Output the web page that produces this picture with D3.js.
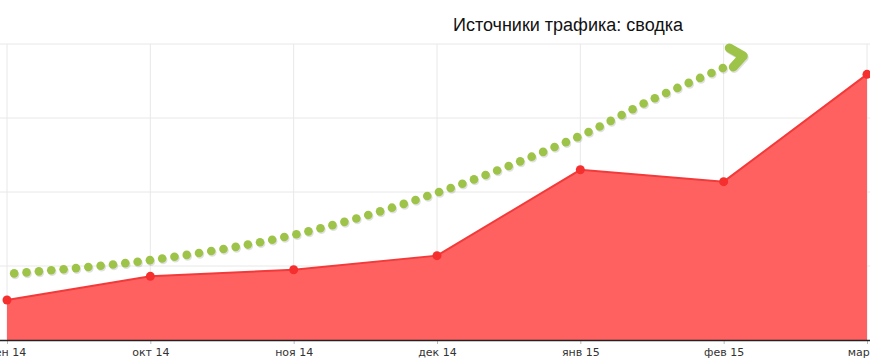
<!DOCTYPE html>
<html>
<head>
<meta charset="utf-8">
<script src="https://cdn.jsdelivr.net/npm/d3@7"></script>
<style>
  body { margin: 0; background: #fff; }
  svg { display: block; }
</style>
</head>
<body>
<svg id="chart" width="870" height="361"></svg>
<script>
// data
var months = ["сен 14", "окт 14", "ноя 14", "дек 14", "янв 15", "фев 15", "мар 15"];
var visits = [54, 86, 95, 114, 230, 214, 359];
var gridTicks = [0, 100, 200, 300, 400];
// green "growth" arrow, in month-index / value units
var arrowIdx = [0.05, 1.0, 2.0, 3.0, 4.0, 4.5, 5.06];
var arrowVal = [90, 108, 142, 199, 276, 325, 373];

var svg = d3.select("#chart");
var width = 870, height = 361;

var x = d3.scaleLinear().domain([0, months.length - 1]).range([7, 867]);
var y = d3.scaleLinear().domain([0, 400]).range([340, 44]);

// grid lines
svg.append("g").selectAll("line.h")
    .data(gridTicks.slice(1))
    .enter().append("line")
    .attr("x1", 0).attr("x2", width)
    .attr("y1", d => y(d)).attr("y2", d => y(d))
    .style("stroke", "#e8e8e8").style("stroke-width", 1);

svg.append("g").selectAll("line.v")
    .data(months)
    .enter().append("line")
    .attr("x1", (d, i) => x(i)).attr("x2", (d, i) => x(i))
    .attr("y1", y(400)).attr("y2", y(0))
    .style("stroke", "#e8e8e8").style("stroke-width", 1);

// area
var area = d3.area()
    .x((d, i) => x(i))
    .y0(y(0))
    .y1(d => y(d));
var line = d3.line()
    .x((d, i) => x(i))
    .y(d => y(d));

svg.append("path")
    .datum(visits)
    .attr("d", area)
    .style("fill", "#ff6161");

svg.append("path")
    .datum(visits)
    .attr("d", line)
    .style("fill", "none")
    .style("stroke", "#f33a3a")
    .style("stroke-width", 2);

svg.append("g").selectAll("circle")
    .data(visits)
    .enter().append("circle")
    .attr("cx", (d, i) => x(i))
    .attr("cy", d => y(d))
    .attr("r", 4.5)
    .style("fill", "#f52e2e");

// x axis
var xAxis = d3.axisBottom(x)
    .tickValues(d3.range(months.length))
    .tickFormat(i => months[i])
    .tickSize(4)
    .tickPadding(4);

var gx = svg.append("g")
    .attr("transform", "translate(0," + y(0) + ")")
    .call(xAxis);
gx.select(".domain").remove();
gx.selectAll(".tick line").style("stroke", "#bbb");
gx.selectAll("text")
    .style("font-family", "'DejaVu Sans', Verdana, sans-serif")
    .style("font-size", "11px")
    .style("fill", "#333");
svg.append("line")
    .attr("x1", 0).attr("x2", width)
    .attr("y1", y(0) + 0.5).attr("y2", y(0) + 0.5)
    .style("stroke", "#222").style("stroke-width", 1.5);

// title
svg.append("text")
    .attr("x", 568)
    .attr("y", 31)
    .attr("text-anchor", "middle")
    .style("font-family", "'Liberation Sans', Arial, sans-serif")
    .style("font-size", "18px")
    .style("fill", "#111")
    .text("Источники трафика: сводка");

// green dotted arrow
var arrowPts = arrowIdx.map((d, i) => [x(d), y(arrowVal[i])]);
var guide = svg.append("path")
    .attr("d", d3.line().curve(d3.curveCatmullRom)(arrowPts))
    .style("fill", "none")
    .style("stroke", "none");
var len = guide.node().getTotalLength();
var dots = [];
for (var s = 0; s <= len; s += 12.4) {
    var p = guide.node().getPointAtLength(s);
    dots.push([p.x, p.y]);
}

var dotG = svg.append("g");
dotG.selectAll("circle.sh")
    .data(dots)
    .enter().append("circle")
    .attr("cx", d => d[0] + 1)
    .attr("cy", d => d[1] + 1.5)
    .attr("r", 4.3)
    .style("fill", "rgba(0,0,0,0.12)");
dotG.selectAll("circle.dot")
    .data(dots)
    .enter().append("circle")
    .attr("cx", d => d[0])
    .attr("cy", d => d[1])
    .attr("r", 4.3)
    .style("fill", "#9dc448");

var end = arrowPts[arrowPts.length - 1];
var head = [[end[0] - 3, end[1] - 16], [end[0] + 11, end[1] - 8], [end[0] + 1, end[1] + 3]];
svg.append("path")
    .attr("d", d3.line()(head.map(p => [p[0] + 1, p[1] + 1.5])))
    .style("fill", "none")
    .style("stroke", "rgba(0,0,0,0.12)")
    .style("stroke-width", 9)
    .style("stroke-linecap", "round")
    .style("stroke-linejoin", "round");
svg.append("path")
    .attr("d", d3.line()(head))
    .style("fill", "none")
    .style("stroke", "#9dc448")
    .style("stroke-width", 9)
    .style("stroke-linecap", "round")
    .style("stroke-linejoin", "round");
</script>
</body>
</html>
